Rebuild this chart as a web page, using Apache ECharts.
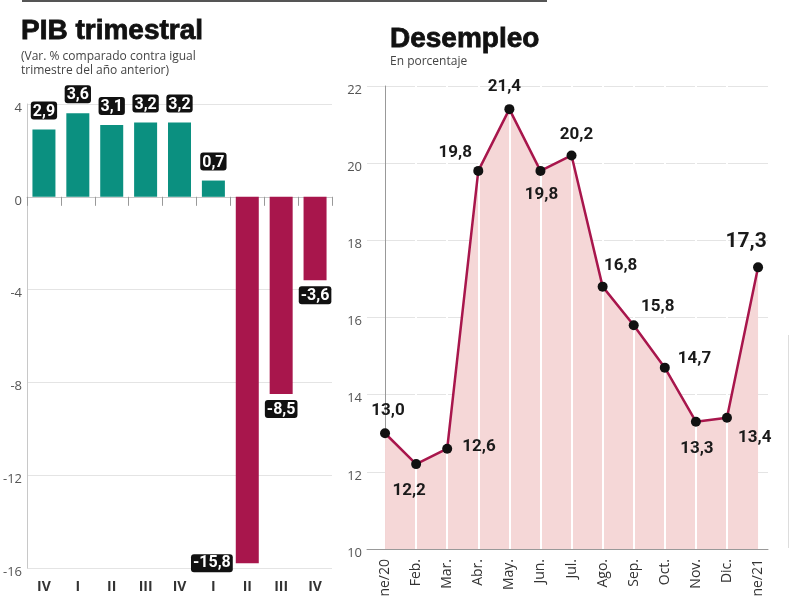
<!DOCTYPE html>
<html>
<head>
<meta charset="utf-8">
<script src="https://cdn.jsdelivr.net/npm/echarts@6/dist/echarts.min.js"></script>
<style>
    html, body { margin: 0; padding: 0; background: #fff; }
    #chart { width: 792px; height: 596px; }
</style>
</head>
<body>
<div id="chart"></div>
<script>
// PIB trimestral
const quarterLabels = ['IV', 'I', 'II', 'III', 'IV', 'I', 'II', 'III', 'IV'];
const pibValues = [2.9, 3.6, 3.1, 3.2, 3.2, 0.7, -15.8, -8.5, -3.6];

// Desempleo
const monthLabels = ['Ene/20', 'Feb.', 'Mar.', 'Abr.', 'May.', 'Jun.', 'Jul.', 'Ago.', 'Sep.', 'Oct.', 'Nov.', 'Dic.', 'Ene/21'];
const desempleoValues = [13.0, 12.2, 12.6, 19.8, 21.4, 19.8, 20.2, 16.8, 15.8, 14.7, 13.3, 13.4, 17.3];

const TEAL = '#0b9080';
const CRIMSON = '#a8164c';
const PINK = '#f5d7d7';
const narrow = 'Roboto, "DejaVu Sans Condensed", sans-serif';
const thin = '"Open Sans", sans-serif';

function fmt(v) {
    return v.toFixed(1).replace('.', ',');
}

// where each unemployment label sits around its point
const lineLabelPlace = [
    { position: 'top', distance: 9, offset: [3, 0] },
    { position: 'bottom', distance: 13, offset: [-7, 0] },
    { position: 'right', distance: 10, offset: [0, -2] },
    { position: 'top', distance: 5, offset: [-23, 0] },
    { position: 'top', distance: 9, offset: [-5, 0] },
    { position: 'bottom', distance: 10, offset: [1, 0] },
    { position: 'top', distance: 7, offset: [5, 0] },
    { position: 'top', distance: 7, offset: [18, 0] },
    { position: 'top', distance: 5, offset: [24, 0] },
    { position: 'right', distance: 8, offset: [0, -9] },
    { position: 'bottom', distance: 14, offset: [1, 0] },
    { position: 'right', distance: 6, offset: [0, 20] },
    { position: 'top', distance: 10, offset: [-12, 0], fontSize: 21 }
];

const barData = pibValues.map((v, i) => {
    let label;
    if (v >= 0) {
        label = { position: 'top', distance: 10 };
    } else if (v < -12) {
        label = { position: [-3, '100%'], align: 'right', verticalAlign: 'middle' };
    } else {
        label = { position: 'bottom', distance: 6 };
    }
    return {
        value: v,
        itemStyle: { color: v >= 0 ? TEAL : CRIMSON },
        label: label
    };
});

const lineData = desempleoValues.map((v, i) => {
    const p = lineLabelPlace[i];
    return {
        value: [i, v],
        label: {
            position: p.position,
            distance: p.distance,
            offset: p.offset,
            fontSize: p.fontSize || 17
        }
    };
});

const areaData = desempleoValues.map((v, i) => [i, v]);

const yLabelStyle = {
    color: '#555',
    fontSize: 13,
    fontFamily: thin,
    margin: 5,
    verticalAlign: 'top',
    lineHeight: 8
};

const titleFont = {
    fontFamily: '"Liberation Sans", Arial, sans-serif',
    fontWeight: 'bold',
    fontSize: 28,
    color: '#111',
    textBorderColor: '#111',
    textBorderWidth: 0.8
};

let myChart = echarts.init(document.getElementById('chart'), null, { renderer: 'canvas' });
let option = {
    animation: false,
    backgroundColor: '#fff',
    title: [
        {
            text: 'PIB trimestral',
            subtext: '(Var. % comparado contra igual\ntrimestre del año anterior)',
            left: 21,
            top: 17,
            padding: 0,
            itemGap: 4,
            textStyle: titleFont,
            subtextStyle: { fontFamily: thin, fontSize: 12, lineHeight: 14, color: '#444' }
        },
        {
            text: 'Desempleo',
            subtext: 'En porcentaje',
            left: 390,
            top: 25,
            padding: 0,
            itemGap: 1,
            textStyle: titleFont,
            subtextStyle: { fontFamily: thin, fontSize: 12, lineHeight: 14, color: '#444' }
        }
    ],
    graphic: [
        {
            type: 'line',
            shape: { x1: 22, y1: 1, x2: 547, y2: 1 },
            style: { stroke: '#555', lineWidth: 2 }
        },
        {
            type: 'line',
            shape: { x1: 788.5, y1: 335, x2: 788.5, y2: 548 },
            style: { stroke: '#ddd', lineWidth: 1 }
        }
    ],
    grid: [
        { left: 27, top: 104, width: 305, height: 464, outerBoundsMode: 'none', containLabel: false },
        { left: 367, top: 86, width: 401, height: 463, outerBoundsMode: 'none', containLabel: false }
    ],
    xAxis: [
        {
            // zero line with the quarter ticks
            type: 'category',
            gridIndex: 0,
            data: quarterLabels,
            axisLine: { onZero: true, lineStyle: { color: '#c8c8c8', width: 1 } },
            axisTick: { show: true, length: 9, lineStyle: { color: '#999' } },
            axisLabel: { show: false }
        },
        {
            // quarter names along the bottom
            type: 'category',
            gridIndex: 0,
            position: 'bottom',
            data: quarterLabels,
            axisLine: { show: false, onZero: false },
            axisTick: { show: false },
            axisLabel: { color: '#333', fontSize: 14, fontWeight: 'bold', fontFamily: thin, margin: 12 }
        },
        {
            type: 'value',
            gridIndex: 1,
            min: -0.58,
            max: 12.32,
            axisLine: { show: true, onZero: false, lineStyle: { color: '#999' } },
            axisTick: { show: false },
            splitLine: { show: false },
            axisLabel: {
                customValues: monthLabels.map((m, i) => i),
                formatter: (v) => monthLabels[Math.round(v)],
                rotate: 90,
                color: '#333',
                fontSize: 14,
                fontFamily: thin,
                margin: 10
            }
        }
    ],
    yAxis: [
        {
            type: 'value',
            gridIndex: 0,
            min: -16,
            max: 4,
            interval: 4,
            axisLine: { show: true, lineStyle: { color: '#c8c8c8' } },
            axisTick: { show: false },
            splitLine: { lineStyle: { color: '#e4e4e4' } },
            axisLabel: yLabelStyle
        },
        {
            type: 'value',
            gridIndex: 1,
            min: 10,
            max: 22,
            interval: 2,
            axisLine: { show: true, lineStyle: { color: '#999' } },
            axisTick: { show: false },
            splitLine: { lineStyle: { color: '#e4e4e4' } },
            axisLabel: yLabelStyle
        }
    ],
    series: [
        {
            name: 'PIB',
            type: 'bar',
            xAxisIndex: 0,
            yAxisIndex: 0,
            barWidth: 23,
            data: barData,
            label: {
                show: true,
                formatter: (p) => fmt(p.value),
                color: '#fff',
                backgroundColor: '#111',
                borderRadius: 3,
                padding: [2, 2, 0, 2],
                fontFamily: narrow,
                fontWeight: 'bold',
                fontSize: 16
            }
        },
        {
            name: 'area',
            type: 'line',
            xAxisIndex: 2,
            yAxisIndex: 1,
            data: areaData,
            symbol: 'none',
            lineStyle: { width: 0 },
            areaStyle: { color: PINK, opacity: 1, origin: 'start' },
            z: 1,
            silent: true,
            markLine: {
                silent: true,
                symbol: 'none',
                z: 3,
                label: { show: false },
                lineStyle: { color: '#fff', width: 2, type: 'solid' },
                data: monthLabels.slice(1, -1).map((m, i) => ({ xAxis: i + 1 }))
            }
        },
        {
            name: 'Desempleo',
            type: 'line',
            xAxisIndex: 2,
            yAxisIndex: 1,
            data: lineData,
            z: 10,
            symbol: 'circle',
            symbolSize: 10,
            itemStyle: { color: '#111' },
            lineStyle: { color: CRIMSON, width: 2.5 },
            label: {
                show: true,
                formatter: (p) => fmt(p.value[1]),
                color: '#1a1a1a',
                fontFamily: narrow,
                fontWeight: 'bold'
            }
        }
    ]
};
myChart.setOption(option);
</script>
</body>
</html>
